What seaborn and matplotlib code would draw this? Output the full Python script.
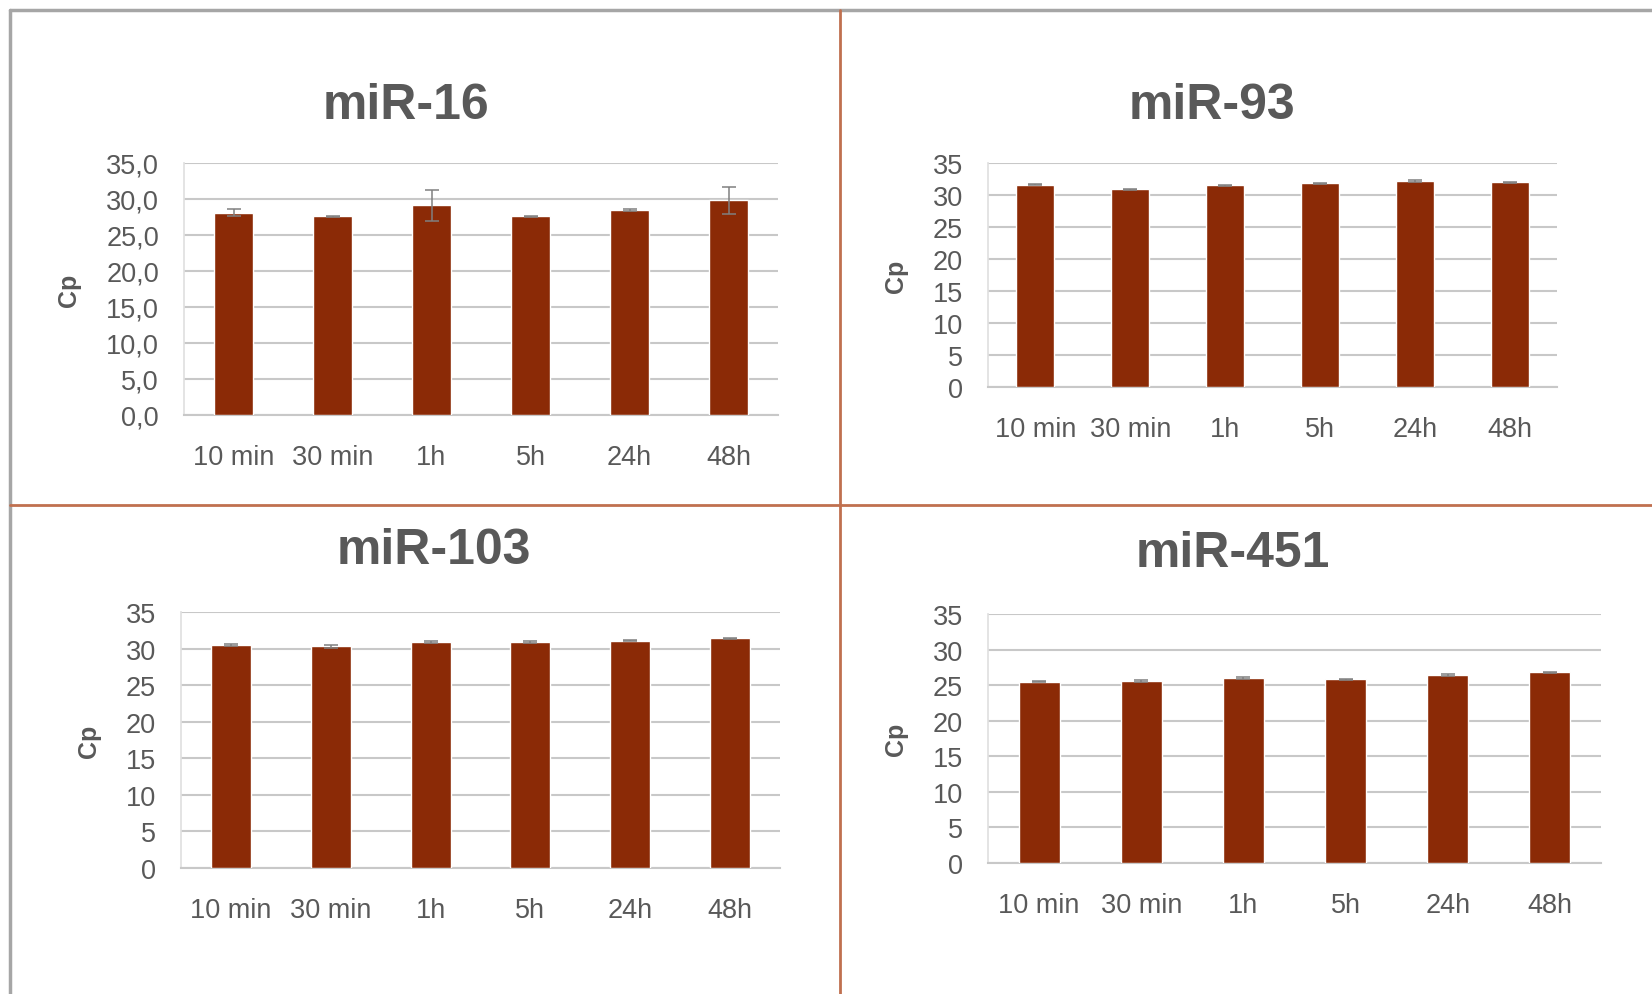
import numpy as np
import pandas as pd
import matplotlib
matplotlib.use("Agg")
import matplotlib.pyplot as plt
from matplotlib.lines import Line2D
from matplotlib.ticker import FuncFormatter
import seaborn as sns

# time points and Cp values (mean, error) per miRNA
times = ["10 min", "30 min", "1h", "5h", "24h", "48h"]
mir16 = [28.1, 27.6, 29.1, 27.6, 28.5, 29.8]
mir16_err = [0.5, 0.1, 2.1, 0.1, 0.1, 1.9]
mir93 = [31.6, 30.9, 31.5, 31.8, 32.2, 32.0]
mir93_err = [0.1, 0.1, 0.1, 0.1, 0.1, 0.1]
mir103 = [30.5, 30.3, 30.9, 30.9, 31.1, 31.4]
mir103_err = [0.1, 0.2, 0.1, 0.1, 0.1, 0.1]
mir451 = [25.5, 25.6, 26.0, 25.8, 26.4, 26.8]
mir451_err = [0.1, 0.1, 0.1, 0.1, 0.1, 0.1]

BAR = "#8B2A06"
TEXT = "#595959"
GRID = "#c8c8c8"
W, H = 1652, 995

sns.set_theme(style="white")
plt.rcParams["font.family"] = ["Liberation Sans", "DejaVu Sans"]

fig = plt.figure(figsize=(W / 100, H / 100), dpi=100)


def px_axes(left, top, right, bottom):
    """Axes from pixel box (origin top-left)."""
    return fig.add_axes([left / W, 1 - bottom / H, (right - left) / W, (bottom - top) / H])


panels = [
    ("miR-16", mir16, mir16_err, (184, 164, 778, 416), (406, 106), True),
    ("miR-93", mir93, mir93_err, (988, 164, 1557, 388), (1212, 106), False),
    ("miR-103", mir103, mir103_err, (181, 613, 780, 869), (434, 551), False),
    ("miR-451", mir451, mir451_err, (988, 615, 1601, 864), (1233, 554), False),
]

for name, vals, errs, box, tpos, comma in panels:
    ax = px_axes(*box)
    df = pd.DataFrame({"time": times, "cp": vals})
    sns.barplot(data=df, x="time", y="cp", color=BAR, saturation=1, width=0.4,
                errorbar=None, ax=ax, zorder=3)
    ax.errorbar(np.arange(len(times)), vals, yerr=errs, fmt="none",
                ecolor="#808080", elinewidth=1.1, capsize=5, capthick=1.1, zorder=4)
    ax.set_ylim(0, 35)
    ax.set_xlim(-0.5, len(times) - 0.5)
    ax.set_yticks(np.arange(0, 36, 5))
    if comma:
        ax.yaxis.set_major_formatter(FuncFormatter(lambda v, p: f"{v:.1f}".replace(".", ",")))
    ax.grid(axis="y", color=GRID, linewidth=1.5, zorder=0)
    for s in ["top", "right"]:
        ax.spines[s].set_visible(False)
    ax.spines["left"].set_color("#e0e0e0")
    ax.spines["bottom"].set_color(GRID)
    ax.spines["bottom"].set_linewidth(1.5)
    ax.tick_params(axis="both", length=0, labelsize=19.5, labelcolor=TEXT)
    ax.tick_params(axis="x", pad=21)
    ax.tick_params(axis="y", pad=18)
    ax.set_xlabel("")
    ax.set_ylabel("Cp", fontsize=18, fontweight="bold", color=TEXT, labelpad=18)
    fig.text(tpos[0] / W, 1 - tpos[1] / H, name, ha="center", va="center",
             fontsize=36, fontweight="bold", color=TEXT)

# outer frame and quadrant dividers
fig.add_artist(Line2D([10 / W, 1], [1 - 11 / H, 1 - 11 / H], color="#a6a6a6", lw=2.5))
fig.add_artist(Line2D([10 / W, 10 / W], [0, 1 - 11 / H], color="#a6a6a6", lw=2.5))
fig.add_artist(Line2D([840 / W, 840 / W], [0, 1 - 11 / H], color="#c0704f", lw=2))
fig.add_artist(Line2D([10 / W, 1], [1 - 506 / H, 1 - 506 / H], color="#c0704f", lw=2))

fig.savefig("out.png", dpi=100)
